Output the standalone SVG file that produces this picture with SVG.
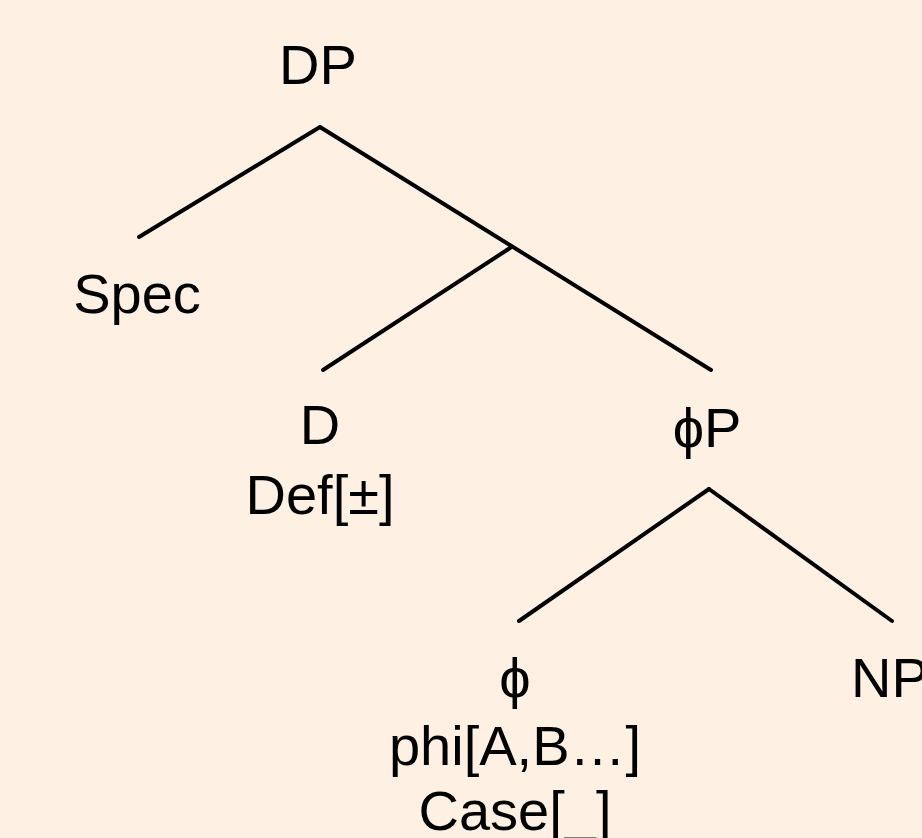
<svg xmlns="http://www.w3.org/2000/svg" width="922" height="838" viewBox="0 0 922 838">
<style>
text{font-family:"Liberation Sans",Arial,sans-serif;font-size:56px;fill:#000;text-anchor:middle}
.e{stroke:#000;stroke-width:4;stroke-linecap:round;fill:none}
</style>
<rect width="922" height="838" fill="#FEF1E3"/>
<g id="connectors">
<line class="e" x1="320" y1="127" x2="139" y2="237"/>
<line class="e" x1="320" y1="127" x2="711" y2="370"/>
<line class="e" x1="510" y1="248" x2="323" y2="370"/>
<line class="e" x1="709" y1="489" x2="519" y2="621"/>
<line class="e" x1="709" y1="489" x2="892" y2="621"/>
</g>
<g id="DP"><text x="318" y="84">DP</text></g>
<g id="Spec"><text x="137" y="313">Spec</text></g>
<g id="D"><text x="320" y="444">D</text><text x="320" y="514">Def[±]</text></g>
<g id="phiP"><text x="707" y="447">ϕP</text></g>
<g id="phi"><text x="515" y="697">ϕ</text><text x="515" y="765">phi[A,B…]</text><text x="515" y="830">Case[_]</text></g>
<g id="NP"><text x="851" y="697" style="text-anchor:start">NP</text></g>
</svg>
